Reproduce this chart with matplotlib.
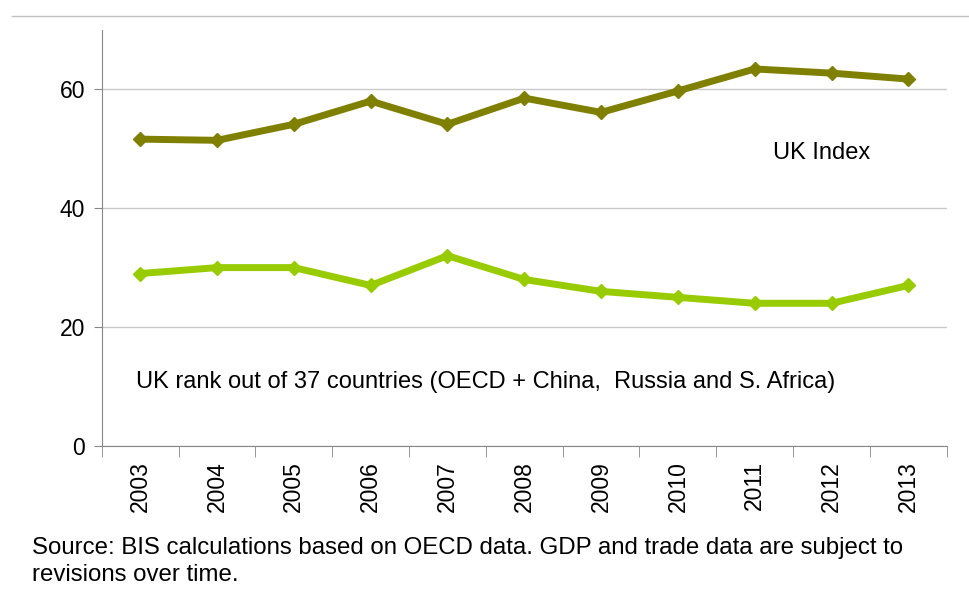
import matplotlib
matplotlib.use("Agg")
import matplotlib.pyplot as plt
from matplotlib.lines import Line2D

plt.rcParams['font.family'] = ['Liberation Sans', 'DejaVu Sans']

# Values
years = ["2003", "2004", "2005", "2006", "2007", "2008",
         "2009", "2010", "2011", "2012", "2013"]
uk_index = [51.6, 51.4, 54.1, 58.0, 54.1, 58.5, 56.1, 59.7, 63.4, 62.7, 61.7]
uk_rank = [29, 30, 30, 27, 32, 28, 26, 25, 24, 24, 27]
y_ticks = [0, 20, 40, 60]

fig = plt.figure(figsize=(9.7, 5.99), dpi=100)
ax = fig.add_axes([0.105, 0.2554, 0.871, 0.695])

x = list(range(len(years)))
ax.plot(x, uk_index, color='#808000', lw=5, marker='D', ms=7,
        solid_joinstyle='miter', zorder=3)
ax.plot(x, uk_rank, color='#99CC00', lw=5, marker='D', ms=7,
        solid_joinstyle='miter', zorder=3)

ax.set_xlim(-0.5, len(years) - 0.5)
ax.set_ylim(0, 70)
ax.set_yticks(y_ticks)
ax.set_yticklabels([str(v) for v in y_ticks], fontsize=16.5)
ax.grid(axis='y', color='#c8c8c8', lw=1)
ax.set_axisbelow(True)

# category labels at centres, tick marks between categories
ax.set_xticks(x)
ax.set_xticklabels(years, rotation=90, fontsize=16.5)
ax.tick_params(axis='x', length=0, pad=11)
ax.set_xticks([i - 0.5 for i in range(len(years) + 1)], minor=True)
ax.tick_params(axis='x', which='minor', length=8, color='#888888', direction='out')
ax.tick_params(axis='y', length=6, color='#888888', direction='out', pad=6)

for side in ['top', 'right']:
    ax.spines[side].set_visible(False)
for side in ['left', 'bottom']:
    ax.spines[side].set_color('#888888')

ax.text(8.875, 49.2, "UK Index", fontsize=17, ha='center', va='center')
ax.text(-0.06, 10.8,
        "UK rank out of 37 countries (OECD + China,  Russia and S. Africa)",
        fontsize=17, ha='left', va='center')

fig.text(0.033, 1 - 548 / 599,
         "Source: BIS calculations based on OECD data. GDP and trade data are subject to",
         fontsize=17.3, ha='left', va='center')
fig.text(0.033, 1 - 575 / 599, "revisions over time.",
         fontsize=17.3, ha='left', va='center')

fig.add_artist(Line2D([12 / 970, 1], [1 - 16 / 599, 1 - 16 / 599],
                      color='#c0c0c0', lw=1, transform=fig.transFigure))

fig.savefig("out.png", dpi=100)
